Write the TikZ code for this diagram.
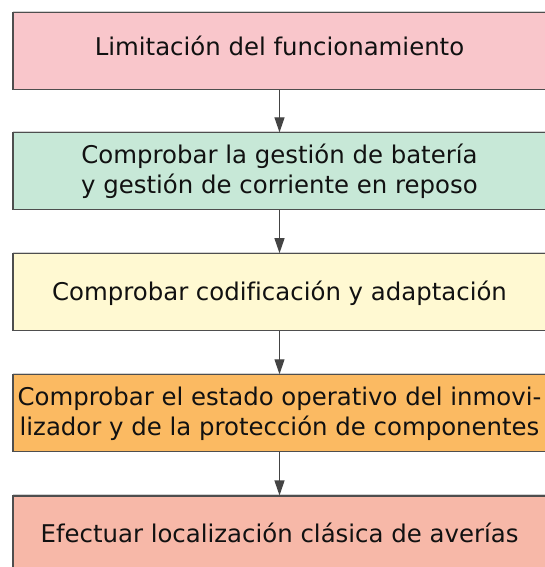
\documentclass[tikz,border=0pt]{standalone}
\usepackage{fontspec}
\setmainfont{DejaVu Sans}[Ligatures=CommonOff]
\usepackage{tikz}
\usetikzlibrary{positioning}
\usetikzlibrary{arrows.meta, shadows}

\definecolor{boxline}{HTML}{4E4E4E}
\definecolor{arrowcol}{HTML}{444444}
\definecolor{textcol}{HTML}{111111}
\definecolor{limfill}{HTML}{F9C6CB}
\definecolor{batfill}{HTML}{C7E8D7}
\definecolor{codfill}{HTML}{FFF9D2}
\definecolor{inmfill}{HTML}{FBBA62}
\definecolor{locfill}{HTML}{F7B8A8}

\tikzset{
  stepbox/.style={draw=boxline, line width=1.1pt, minimum width=533pt, minimum height=77pt,
    inner sep=0pt, align=center, text=textcol, font=\fontsize{24.4}{30}\selectfont,
    drop shadow={shadow xshift=0pt, shadow yshift=2pt, opacity=0.3, fill=black!60}},
  oneline/.style={text height=18pt, text depth=2pt},
  flowarrow/.style={draw=arrowcol, line width=1.2pt, -{Triangle[length=15pt,width=10pt]}}
}

\begin{document}
\begin{tikzpicture}[x=1pt,y=1pt,yscale=-1,xscale=1]
            \useasboundingbox (0,0) rectangle (545,567); %page is 545 x 567

            %Shape: Rectangle [lim]
            \node [stepbox, oneline, text depth=10pt, fill=limfill] (lim) at (279.5,51.3) {Limitación del funcionamiento};
            %Shape: Rectangle [bat]
            \node [stepbox, fill=batfill] (bat) at (279.5,171.4) {Comprobar la gestión de batería\\y gestión de corriente en reposo};
            %Shape: Rectangle [cod]
            \node [stepbox, oneline, fill=codfill] (cod) at (279.5,292.2) {Comprobar codificación y adaptación};
            %Shape: Rectangle [inm]
            \node [stepbox, fill=inmfill] (inm) at (279.5,413.3) {Comprobar el estado operativo del inmovi-\\lizador y de la protección de componentes};
            %Shape: Rectangle [loc]
            \node [stepbox, oneline, fill=locfill] (loc) at (279.5,534.5) {Efectuar localización clásica de averías};

            %Straight Lines
            \draw [flowarrow] (lim) -- (bat);
            %Straight Lines
            \draw [flowarrow] (bat) -- (cod);
            %Straight Lines
            \draw [flowarrow] (cod) -- (inm);
            %Straight Lines
            \draw [flowarrow] (inm) -- (loc);

        \end{tikzpicture}
\end{document}
